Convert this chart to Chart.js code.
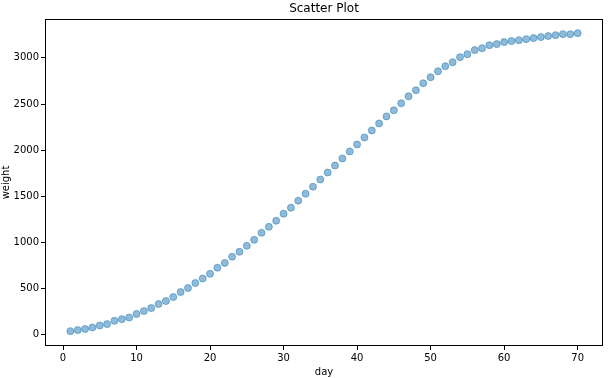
<!DOCTYPE html>
<html>
<head>
<meta charset="utf-8">
<script src="https://cdn.jsdelivr.net/npm/chart.js@4"></script>
<style>
  body { margin: 0; background: #fff; }
</style>
</head>
<body>
<canvas id="myChart" width="608" height="378"></canvas>
<script>
const days = [];
for (let d = 1; d <= 70; d++) days.push(d);

const weights = [
  40, 51, 62, 80, 101, 116, 152, 170, 188, 225,
  257, 290, 333, 366, 409, 463, 507, 561, 610, 661,
  727, 779, 846, 900, 964, 1029, 1105, 1170, 1236, 1312,
  1377, 1453, 1529, 1605, 1682, 1758, 1834, 1910, 1986, 2062,
  2138, 2214, 2290, 2366, 2432, 2508, 2584, 2649, 2725, 2790,
  2855, 2910, 2953, 3008, 3040, 3084, 3105, 3138, 3149, 3171,
  3182, 3192, 3203, 3214, 3225, 3236, 3246, 3257, 3257, 3268
];

const xTicks = [0, 10, 20, 30, 40, 50, 60, 70];
const yTicks = [0, 500, 1000, 1500, 2000, 2500, 3000];

const font = "'DejaVu Sans', sans-serif";

// matplotlib style frame + title over the axes
const framePlugin = {
  id: "frame",
  afterDraw(chart) {
    const { ctx, chartArea } = chart;
    ctx.save();
    ctx.strokeStyle = "#000";
    ctx.lineWidth = 1;
    ctx.strokeRect(chartArea.left + 0.5, chartArea.top + 0.5,
      chartArea.right - chartArea.left - 1, chartArea.bottom - chartArea.top - 1);
    ctx.fillStyle = "#000";
    ctx.font = "12px " + font;
    ctx.textAlign = "center";
    ctx.textBaseline = "middle";
    ctx.fillText("Scatter Plot", (chartArea.left + chartArea.right) / 2, 9);
    ctx.restore();
  },
};

const points = days.map((d, i) => ({ x: d, y: weights[i] }));

const config = {
  type: "scatter",
  data: {
    datasets: [
      {
        data: points,
        backgroundColor: "rgba(31, 119, 180, 0.5)",
        borderColor: "rgba(31, 119, 180, 0.5)",
        borderWidth: 1,
        pointRadius: 3.5,
      },
    ],
  },
  options: {
    responsive: false,
    animation: false,
    devicePixelRatio: 1,
    layout: { padding: { top: 19, right: 5, left: 0, bottom: 0 } },
    plugins: {
      legend: { display: false },
      tooltip: { enabled: false },
    },
    scales: {
      x: {
        type: "linear",
        min: -2.45,
        max: 73.45,
        afterBuildTicks: (scale) => {
          scale.ticks = xTicks.map((v) => ({ value: v }));
        },
        afterFit: (scale) => {
          scale.height = 32;
        },
        grid: {
          drawOnChartArea: false,
          drawTicks: true,
          tickLength: 4,
          color: "#000",
        },
        border: { display: false },
        ticks: {
          color: "#000",
          font: { family: font, size: 10 },
          padding: 2,
          maxRotation: 0,
          callback: (v) => String(v),
        },
        title: {
          display: true,
          text: "day",
          color: "#000",
          font: { family: font, size: 10 },
          padding: { top: 2, bottom: 0 },
        },
      },
      y: {
        type: "linear",
        min: -121,
        max: 3421,
        afterBuildTicks: (scale) => {
          scale.ticks = yTicks.map((v) => ({ value: v }));
        },
        afterFit: (scale) => {
          scale.width = 45;
        },
        grid: {
          drawOnChartArea: false,
          drawTicks: true,
          tickLength: 4,
          color: "#000",
        },
        border: { display: false },
        ticks: {
          color: "#000",
          font: { family: font, size: 10 },
          padding: 2,
          callback: (v) => String(v),
        },
        title: {
          display: true,
          text: "weight",
          color: "#000",
          font: { family: font, size: 10 },
          padding: { top: 0, bottom: 0 },
        },
      },
    },
  },
  plugins: [framePlugin],
};

const myChart = new Chart(document.getElementById("myChart"), config);
</script>
</body>
</html>
